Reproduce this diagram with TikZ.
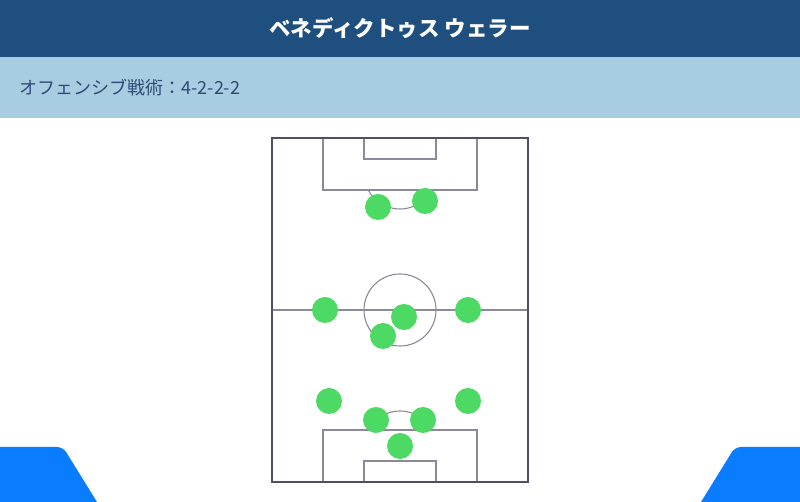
\documentclass[tikz,border=0pt]{standalone}
\usepackage{fontspec}
\usepackage{tikz}
\newfontfamily\jpfont{Noto Sans CJK JP}
\definecolor{headblue}{HTML}{1F4F7F}
\definecolor{bandblue}{HTML}{A8CCE0}
\definecolor{textblue}{HTML}{2F4A78}
\definecolor{playergreen}{HTML}{4CD964}
\definecolor{cornerblue}{HTML}{0A7CFF}
\definecolor{lineGrey}{HTML}{8A8A98}
\definecolor{edgeGrey}{HTML}{505064}
\tikzset{
	every player/.style={
		circle,
		fill=playergreen,
		minimum size=26pt,
		inner sep=0pt
	},
	pitch line/.style={
		draw=lineGrey,
		line width=1.1pt
	},
	pitch edge/.style={
		draw=edgeGrey,
		line width=1.4pt
	},
}

\begin{document}
\begin{tikzpicture}[x=1pt, y=1pt]

\useasboundingbox (0,0) rectangle (800,502);

% bands
\fill [headblue] (0,445) rectangle (800,502);
\fill [bandblue] (0,384) rectangle (800,445);
\node [text=white, font=\jpfont\bfseries\fontsize{21.5}{24}\selectfont] (title) at (400,474) {ベネディクトゥス ウェラー};
\node [text=textblue, anchor=west, font=\jpfont\fontsize{18}{20}\selectfont] (tactic) at (16,414) {オフェンシブ戦術：4-2-2-2};

% corners
\fill [cornerblue] (0,0) -- (0,55) [rounded corners=6pt] -- (63,55) [sharp corners] -- (97,0) -- cycle;
\fill [cornerblue] (800,0) -- (800,55) [rounded corners=6pt] -- (735,55) [sharp corners] -- (701,0) -- cycle;

% pitch
\draw [pitch line] (272,192) -- (528,192);
\draw [pitch line] (400,192) circle (36);
\draw [pitch line] (323,364) -- (323,312) -- (477,312) -- (477,364);
\draw [pitch line] (364,364) -- (364,343) -- (436,343) -- (436,364);
\draw [pitch line] (431.7,312) arc [start angle=-28.2, end angle=-151.8, radius=36];
\draw [pitch line] (323,20) -- (323,72) -- (477,72) -- (477,20);
\draw [pitch line] (364,20) -- (364,41) -- (436,41) -- (436,20);
\draw [pitch line] (431.7,72) arc [start angle=28.2, end angle=151.8, radius=36];
\draw [pitch edge] (272,20) rectangle (528,364);

\foreach \x/\y [count=\i] in {378/295, 425/301, 325/192, 468/192, 404/185, 383/166,
	329/101, 468/101, 376/82, 423/82, 400/56}
	\node [every player/.try] (player-\i) at (\x,\y) {};

\end{tikzpicture}
\end{document}
